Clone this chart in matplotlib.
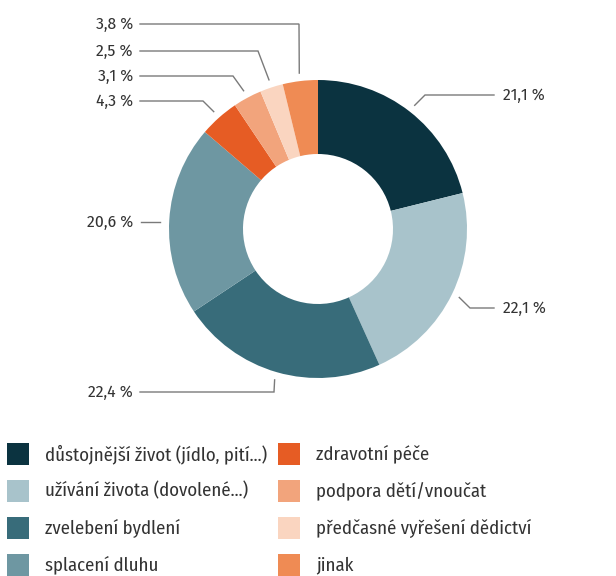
import matplotlib
matplotlib.use('Agg')
import matplotlib.pyplot as plt
from matplotlib.patches import Rectangle
import numpy as np

# ── data ──────────────────────────────────────────────────────────────────
categories = [
    'důstojnější život (jídlo, pití...)',
    'užívání života (dovolené...)',
    'zvelebení bydlení',
    'splacení dluhu',
    'zdravotní péče',
    'podpora dětí/vnoučat',
    'předčasné vyřešení dědictví',
    'jinak',
]
values = [21.1, 22.1, 22.4, 20.6, 4.3, 3.1, 2.5, 3.8]
value_labels = ['21,1 %', '22,1 %', '22,4 %', '20,6 %', '4,3 %', '3,1 %', '2,5 %', '3,8 %']
colors = ['#0b3340', '#a8c3cb', '#386c7a', '#6e97a2',
          '#e65c24', '#f2a47c', '#fad5c0', '#ef8b54']

plt.rcParams['font.family'] = ['Fira Sans Condensed', 'Open Sans', 'DejaVu Sans']
plt.rcParams['font.weight'] = 'normal'
TXT = '#333333'
LINE = '#7a7a7a'

W, H = 616, 576
fig = plt.figure(figsize=(W / 100, H / 100), dpi=100)
ax = fig.add_axes([0, 0, 1, 1])


def Y(y):
    """pixel row (top-down) -> data y (bottom-up)"""
    return H - y


# ── donut ─────────────────────────────────────────────────────────────────
cx, cy, R, ring = 318, 229, 149, 74
wedges, _ = ax.pie(values, colors=colors, startangle=90, counterclock=False,
                   center=(cx, Y(cy)), radius=R,
                   wedgeprops=dict(width=ring, linewidth=0, edgecolor='white'))

# ── labels with leader lines ──────────────────────────────────────────────
# (text anchor x, text y, side, elbow) in pixels; elbow None = straight line
label_layout = [
    (503, 95, 'right', (425, 95)),
    (503, 308, 'right', (470, 308)),
    (133, 392, 'left', (274, 392)),
    (133, 222, 'left', None),
    (133, 101, 'left', (203, 101)),
    (133, 76, 'left', (233, 76)),
    (133, 51, 'left', (258, 51)),
    (133, 24, 'left', (299, 24)),
]
r_lead = 157
for w, lab, (tx, ty, side, elbow) in zip(wedges, value_labels, label_layout):
    mid = np.deg2rad((w.theta1 + w.theta2) / 2)
    px, py = cx + r_lead * np.cos(mid), cy - r_lead * np.sin(mid)
    if elbow is None:
        pts = [(tx + 8, ty), (cx - R - 9, ty)]
    elif side == 'right':
        pts = [(px, py), elbow, (tx - 9, ty)]
    else:
        pts = [(tx + 7, ty), elbow, (px, py)]
    xs = [p[0] for p in pts]
    ys = [Y(p[1]) for p in pts]
    ax.plot(xs, ys, color=LINE, lw=1.0, solid_joinstyle='miter')
    ax.text(tx, Y(ty), lab, ha='left' if side == 'right' else 'right',
            va='center', fontsize=12.5, fontweight='normal', color=TXT)

# ── legend ────────────────────────────────────────────────────────────────
row_y = [454, 491, 528, 565]
col_x = [7, 278]
sq = 22
for i, (cat, col) in enumerate(zip(categories, colors)):
    x0 = col_x[i // 4]
    y0 = row_y[i % 4]
    ax.add_patch(Rectangle((x0, Y(y0) - sq / 2), sq, sq, facecolor=col,
                           edgecolor='none'))
    ax.text(x0 + sq + 16, Y(y0), cat, ha='left', va='center',
            fontsize=13.5, fontweight='normal', color=TXT)

ax.set_xlim(0, W)
ax.set_ylim(0, H)
ax.set_aspect('equal')
ax.axis('off')

fig.savefig('out.png', dpi=100)
